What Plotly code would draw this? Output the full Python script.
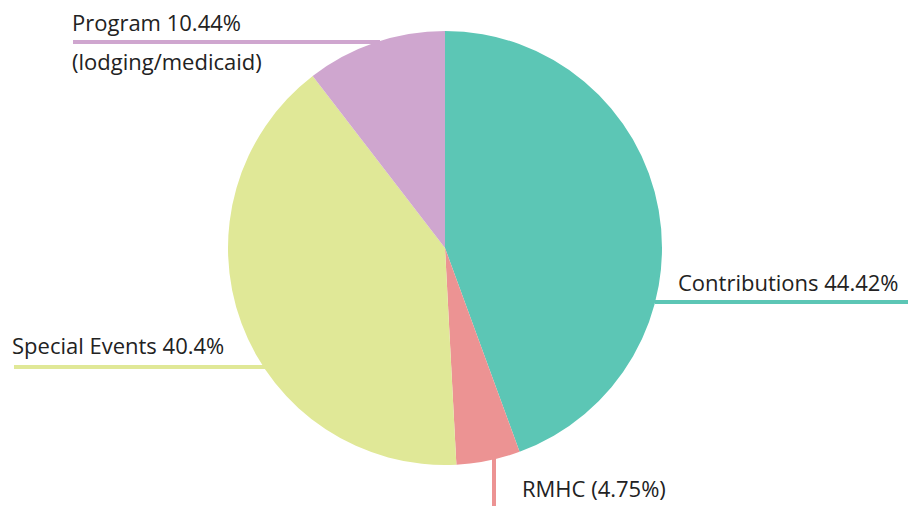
import plotly.graph_objects as go

labels = ["Contributions", "RMHC", "Special Events", "Program"]
values = [44.42, 4.75, 40.4, 10.44]
colors = ["#5CC6B5", "#EC9393", "#E0E897", "#CFA6CF"]

W, H = 912, 506
cx, cy, r = 445, 248, 217

def px(x):
    return x / W

def py(y):
    return 1 - y / H

fig = go.Figure(go.Pie(
    labels=labels, values=values, sort=False, direction="clockwise", rotation=0,
    marker=dict(colors=colors, line=dict(width=0)),
    textinfo="none", hoverinfo="label+percent", showlegend=False,
    domain=dict(x=[px(cx - r), px(cx + r)], y=[py(cy + r), py(cy - r)]),
))

# leader lines (paper coordinates, ending at the pie edge)
lines = [
    (73, 42, 380, 42, colors[3]),
    (655, 302, 908, 302, colors[0]),
    (14, 367, 265, 367, colors[2]),
    (494, 458, 494, 506, colors[1]),
]
for x0, y0, x1, y1, c in lines:
    fig.add_shape(type="line", xref="paper", yref="paper",
                  x0=px(x0), y0=py(y0), x1=px(x1), y1=py(y1),
                  line=dict(color=c, width=4), layer="below")

font = dict(family="Open Sans, sans-serif", size=22, color="#222222")
texts = [
    ("Program 10.44%", 70, 22),
    ("(lodging/medicaid)", 70, 61),
    ("Contributions 44.42%", 676, 282),
    ("Special Events 40.4%", 10, 345),
    ("RMHC (4.75%)", 520, 488),
]
for t, x, y in texts:
    fig.add_annotation(text=t, xref="paper", yref="paper", x=px(x), y=py(y),
                       xanchor="left", yanchor="middle", showarrow=False, font=font)

fig.update_layout(width=W, height=H, margin=dict(l=0, r=0, t=0, b=0),
                  paper_bgcolor="white", plot_bgcolor="white")
fig.write_html("out.html", config={"displayModeBar": False},
               post_script="document.body.style.margin='0';")
